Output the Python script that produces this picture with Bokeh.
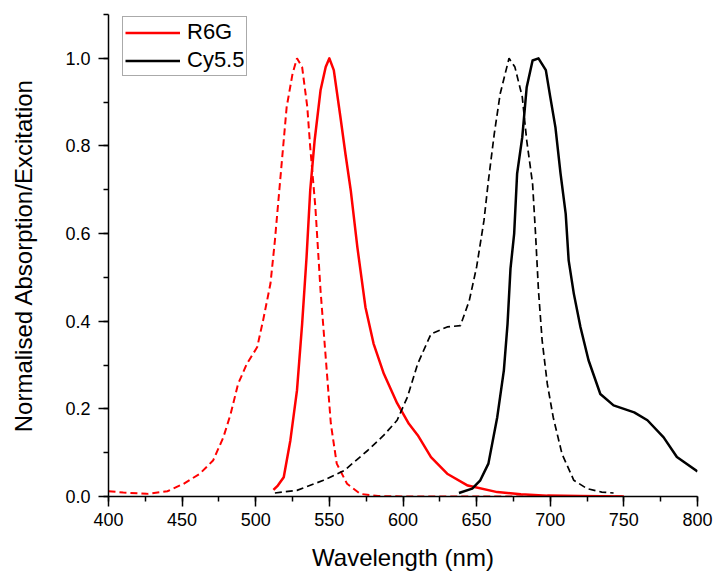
from bokeh.plotting import figure
from bokeh.models import Range1d, SingleIntervalTicker, PrintfTickFormatter, Legend, LegendItem
from bokeh.embed import file_html
from bokeh.resources import INLINE

# R6G absorption / excitation (dashed red)
r6g_abs_nm = [400, 410, 426, 440, 451, 462, 471, 478, 483, 488, 494, 501, 505, 510, 513, 517,
              521, 525, 528, 531.5, 535, 537, 540.5, 544, 547.5, 551, 555, 562, 571, 583, 600,
              650, 700, 750]
r6g_abs = [0.012, 0.009, 0.006, 0.012, 0.029, 0.052, 0.082, 0.135, 0.189, 0.257, 0.303, 0.341,
           0.402, 0.486, 0.584, 0.737, 0.889, 0.965, 1.0, 0.98, 0.889, 0.797, 0.66, 0.47, 0.318,
           0.166, 0.075, 0.029, 0.006, 0.001, 0.0, 0.0, 0.0, 0.0]

# R6G emission (solid red)
r6g_em_nm = [512, 515, 519, 523.5, 528, 531.5, 534.5, 537, 540, 544, 547.5, 550, 553, 557.5, 561,
             564.5, 569, 574.5, 580, 587, 596, 604, 610, 619, 630, 644, 664, 680, 698, 720, 750]
r6g_em = [0.015, 0.025, 0.044, 0.128, 0.242, 0.394, 0.546, 0.699, 0.813, 0.927, 0.98, 1.0, 0.973,
          0.866, 0.78, 0.699, 0.569, 0.432, 0.349, 0.28, 0.213, 0.166, 0.14, 0.09, 0.052, 0.025,
          0.01, 0.005, 0.002, 0.001, 0.0]

# Cy5.5 absorption / excitation (dashed black)
cy_abs_nm = [513, 528, 546, 560, 576, 587, 596, 603, 610, 619, 630, 639, 645, 650, 655, 658, 662,
             666, 672, 676, 681, 684, 688, 690, 692, 694.5, 698, 702, 708, 716, 725, 735, 743]
cy_abs = [0.008, 0.014, 0.037, 0.059, 0.105, 0.14, 0.174, 0.227, 0.303, 0.371, 0.387, 0.39, 0.447,
          0.524, 0.63, 0.721, 0.828, 0.919, 1.0, 0.98, 0.912, 0.813, 0.714, 0.6, 0.47, 0.356,
          0.257, 0.181, 0.097, 0.037, 0.018, 0.01, 0.008]

# Cy5.5 emission (solid black)
cy_em_nm = [638, 647, 652.5, 658, 664, 668.5, 671, 673, 675.5, 677.5, 681, 684, 688, 692, 697, 700,
            703.5, 707, 710.5, 712.5, 716, 720.5, 726, 734, 743, 757, 766, 777, 786, 800]
cy_em = [0.008, 0.018, 0.037, 0.075, 0.181, 0.288, 0.394, 0.52, 0.6, 0.737, 0.82, 0.934, 0.995,
         1.0, 0.973, 0.912, 0.843, 0.737, 0.645, 0.539, 0.463, 0.387, 0.311, 0.234, 0.208, 0.192,
         0.174, 0.135, 0.09, 0.057]

series_names = ["R6G", "Cy5.5"]
x_label = "Wavelength (nm)"
y_label = "Normalised Absorption/Excitation"

FONT = "Liberation Sans"

p = figure(width=714, height=573, output_backend="svg", toolbar_location=None,
           x_range=Range1d(400, 800), y_range=Range1d(0, 1.1),
           min_border_left=108, min_border_right=17, min_border_top=14, min_border_bottom=77)
p.outline_line_color = None
p.xgrid.visible = False
p.ygrid.visible = False
p.background_fill_color = "white"
p.border_fill_color = "white"

r_abs = p.line(r6g_abs_nm, r6g_abs, line_color="#ff0000", line_width=2, line_dash="7 4")
r_em = p.line(r6g_em_nm, r6g_em, line_color="#ff0000", line_width=2.5, line_join="round")
c_abs = p.line(cy_abs_nm, cy_abs, line_color="black", line_width=1.7, line_dash="7 4")
c_em = p.line(cy_em_nm, cy_em, line_color="black", line_width=2.5, line_join="round")

for ax in (p.xaxis[0], p.yaxis[0]):
    ax.axis_line_width = 1.5
    ax.axis_line_color = "black"
    ax.major_tick_line_color = "black"
    ax.minor_tick_line_color = "black"
    ax.major_tick_line_width = 1.5
    ax.minor_tick_line_width = 1.5
    ax.major_tick_in = 0
    ax.major_tick_out = 10
    ax.minor_tick_in = 0
    ax.minor_tick_out = 5
    ax.major_label_text_font = FONT
    ax.major_label_text_font_size = "18px"
    ax.major_label_text_color = "black"
    ax.axis_label_text_font = FONT
    ax.axis_label_text_font_size = "24px"
    ax.axis_label_text_font_style = "normal"
    ax.axis_label_text_color = "black"

p.xaxis[0].ticker = SingleIntervalTicker(interval=50, num_minor_ticks=2)
p.yaxis[0].ticker = SingleIntervalTicker(interval=0.2, num_minor_ticks=2)
p.yaxis[0].formatter = PrintfTickFormatter(format="%.1f")
p.xaxis[0].axis_label = x_label
p.yaxis[0].axis_label = y_label
p.xaxis[0].major_label_standoff = 6
p.yaxis[0].major_label_standoff = 8
p.xaxis[0].axis_label_standoff = 15
p.yaxis[0].axis_label_standoff = 25

legend = Legend(items=[LegendItem(label=series_names[0], renderers=[r_em]),
                       LegendItem(label=series_names[1], renderers=[c_em])],
                location=(14, 420), orientation="vertical")
legend.padding = 2
legend.margin = 0
legend.spacing = 2
legend.glyph_width = 55
legend.glyph_height = 25
legend.label_height = 25
legend.label_standoff = 7
legend.label_text_font = FONT
legend.label_text_font_size = "22px"
legend.label_text_color = "black"
legend.border_line_color = "#555555"
legend.border_line_width = 1
legend.background_fill_alpha = 1
p.add_layout(legend, "center")

open("out.html", "w").write(file_html(p, INLINE))
